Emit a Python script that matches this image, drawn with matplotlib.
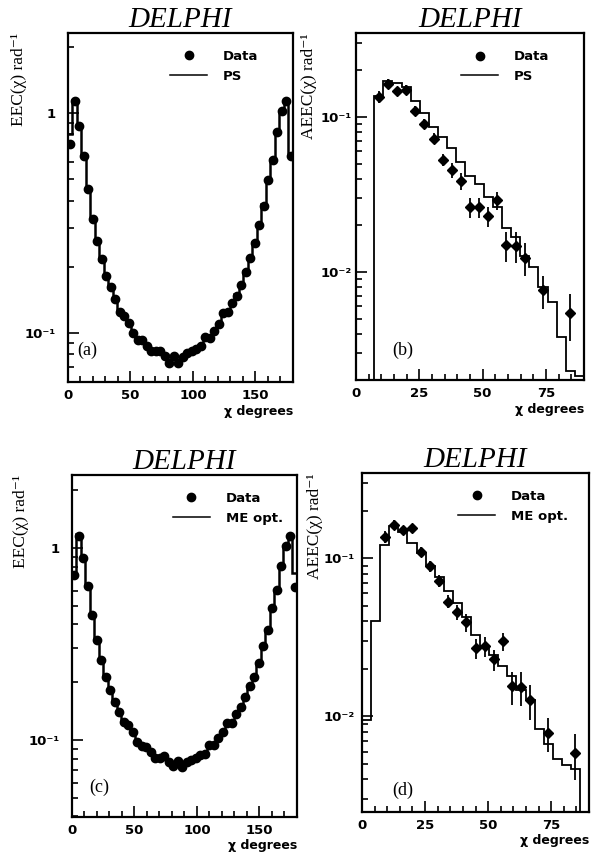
import numpy as np
import matplotlib
matplotlib.use("Agg")
import matplotlib.pyplot as plt
from matplotlib.ticker import LogLocator, MultipleLocator, FuncFormatter, NullFormatter

# ---- data (bins of 3.6 degrees) ----
bin_w = 3.6

# (a) EEC, data and parton shower
eec_a = [0.726, 1.13, 0.875, 0.635, 0.452, 0.330, 0.261, 0.217, 0.182, 0.162,
         0.143, 0.124, 0.120, 0.111, 0.100, 0.093, 0.0925, 0.087, 0.083, 0.083,
         0.083, 0.079, 0.073, 0.079, 0.073, 0.078, 0.081, 0.083, 0.085, 0.087,
         0.096, 0.095, 0.102, 0.110, 0.123, 0.124, 0.137, 0.148, 0.166, 0.190,
         0.219, 0.256, 0.311, 0.377, 0.497, 0.614, 0.817, 1.02, 1.13, 0.64]
ps_a = [0.80, 1.15, 0.88, 0.64, 0.45, 0.33, 0.262, 0.215, 0.180, 0.160,
        0.142, 0.125, 0.119, 0.110, 0.100, 0.094, 0.092, 0.087, 0.083, 0.083,
        0.082, 0.079, 0.075, 0.078, 0.075, 0.077, 0.080, 0.083, 0.085, 0.088,
        0.095, 0.096, 0.102, 0.110, 0.121, 0.126, 0.137, 0.150, 0.168, 0.192,
        0.222, 0.258, 0.315, 0.385, 0.50, 0.62, 0.83, 1.02, 1.15, 0.66]

# (c) EEC, data and matrix element (optimised scale)
eec_c = [0.726, 1.16, 0.887, 0.636, 0.449, 0.330, 0.261, 0.214, 0.182, 0.158,
         0.140, 0.124, 0.120, 0.110, 0.098, 0.093, 0.092, 0.087, 0.081, 0.081,
         0.083, 0.077, 0.073, 0.078, 0.072, 0.077, 0.079, 0.081, 0.084, 0.085,
         0.094, 0.094, 0.102, 0.110, 0.122, 0.122, 0.137, 0.149, 0.168, 0.190,
         0.214, 0.251, 0.307, 0.375, 0.486, 0.606, 0.802, 1.02, 1.16, 0.63]
me_c = [0.74, 1.18, 0.88, 0.64, 0.45, 0.33, 0.262, 0.214, 0.182, 0.158,
        0.141, 0.124, 0.120, 0.110, 0.099, 0.093, 0.092, 0.086, 0.082, 0.081,
        0.082, 0.078, 0.074, 0.077, 0.073, 0.077, 0.079, 0.081, 0.084, 0.086,
        0.094, 0.095, 0.102, 0.110, 0.121, 0.123, 0.137, 0.149, 0.168, 0.190,
        0.215, 0.252, 0.307, 0.375, 0.486, 0.606, 0.802, 1.02, 1.18, 0.74]

# (b), (d) AEEC data points (bin centres that have a positive asymmetry)
aeec_x = [9.0, 12.6, 16.2, 19.8, 23.4, 27.0, 30.6, 34.2, 37.8, 41.4,
          45.0, 48.6, 52.2, 55.8, 59.4, 63.0, 66.6, 73.8, 84.6]
aeec_b = [0.1345, 0.164, 0.147, 0.150, 0.110, 0.0906, 0.0725, 0.0531, 0.0453, 0.0386,
          0.0262, 0.0262, 0.0229, 0.0290, 0.0149, 0.0147, 0.0124, 0.0076, 0.0054]
aeec_b_err = [0.012, 0.012, 0.010, 0.010, 0.008, 0.007, 0.006, 0.005, 0.005, 0.005,
              0.0038, 0.0038, 0.0035, 0.004, 0.0033, 0.0033, 0.003, 0.0018, 0.0018]
aeec_d = [0.137, 0.162, 0.151, 0.155, 0.110, 0.0894, 0.0723, 0.0532, 0.046, 0.0393,
          0.027, 0.0277, 0.023, 0.0298, 0.0155, 0.0153, 0.0127, 0.0079, 0.00586]
aeec_d_err = [0.012, 0.012, 0.010, 0.010, 0.008, 0.007, 0.006, 0.005, 0.005, 0.005,
              0.004, 0.004, 0.0035, 0.004, 0.0037, 0.0037, 0.0032, 0.0019, 0.0019]

# (b) PS histogram from bin 3 (7.2 deg) to 90 deg
ps_b_first = 2
ps_b = [0.136, 0.170, 0.166, 0.156, 0.126, 0.106, 0.086, 0.074, 0.063, 0.051,
        0.0416, 0.037, 0.0306, 0.0264, 0.0191, 0.0167, 0.0126, 0.0108, 0.0080, 0.0064,
        0.00383, 0.00228, 0.00212]
# (d) ME histogram from 0 to 86.4 deg
me_d_first = 0
me_d = [0.0095, 0.0403, 0.121, 0.161, 0.147, 0.125, 0.108, 0.090, 0.076, 0.0623,
        0.0518, 0.0427, 0.0328, 0.0277, 0.0245, 0.0207, 0.0179, 0.0148, 0.0128, 0.0083,
        0.0067, 0.0054, 0.0049, 0.00464]

panel_tags = ["(a)", "(b)", "(c)", "(d)"]
mc_names = ["PS", "PS", "ME opt.", "ME opt."]

# ---- figure ----
fig = plt.figure(figsize=(5.96, 8.63), dpi=100, facecolor="white")

serif = ["Liberation Serif", "DejaVu Serif"]
sans_bold = dict(family="DejaVu Sans", weight="bold")


def decade_label(v, pos):
    if abs(v - 1) < 1e-9:
        return "1"
    e = int(round(np.log10(v)))
    sup = str(e).replace("-", "\u207b").replace("1", "\u00b9").replace("2", "\u00b2")
    return "10" + sup


def style_axis(ax, xlim, ylim, xmajor, xminor, ylabel, tag, tagpos, ypad, ylab_x):
    ax.set_xlim(*xlim)
    ax.set_yscale("log")
    ax.set_ylim(*ylim)
    for s in ax.spines.values():
        s.set_linewidth(1.6)
    ax.xaxis.set_major_locator(MultipleLocator(xmajor))
    ax.xaxis.set_minor_locator(MultipleLocator(xminor))
    ax.yaxis.set_major_locator(LogLocator(base=10))
    ax.yaxis.set_minor_locator(LogLocator(base=10, subs=np.arange(2, 10)))
    ax.yaxis.set_major_formatter(FuncFormatter(decade_label))
    ax.yaxis.set_minor_formatter(NullFormatter())
    ax.tick_params(which="both", direction="in", top=False, right=False, width=1.2)
    ax.tick_params(which="major", length=8)
    ax.tick_params(which="minor", length=4)
    ax.tick_params(axis="x", which="major", pad=5)
    ax.tick_params(axis="y", which="major", pad=ypad)
    for lab in ax.get_xticklabels() + ax.get_yticklabels():
        lab.set_fontfamily("DejaVu Sans")
        lab.set_fontweight("bold")
        lab.set_fontsize(9.5)
    ax.set_xlabel("\u03c7 degrees", fontsize=9, **sans_bold)
    ax.xaxis.set_label_coords(1.0, -0.065)
    ax.xaxis.label.set_horizontalalignment("right")
    ax.set_ylabel(ylabel, family=serif, fontsize=12.5, loc="top")
    ax.yaxis.set_label_coords(ylab_x, 1.0)
    ax.set_title("DELPHI", family=serif, style="italic", fontsize=21, pad=1)
    ax.text(tagpos[0], tagpos[1], tag, transform=ax.transAxes, family=serif,
            fontsize=13, ha="center", va="center")


def legend(ax, label, anchor_x):
    ax.plot([], [], "o", color="black", markersize=6, label="Data")
    ax.plot([], [], "-", color="black", lw=1.1, label=label)
    ax.legend(loc="upper right", bbox_to_anchor=(anchor_x, 0.985), frameon=False,
              handlelength=2.8, handletextpad=1.2, labelspacing=0.5,
              prop=dict(family="DejaVu Sans", weight="bold", size=9.5))


edges_full = np.arange(51) * bin_w
centres_full = edges_full[:-1] + bin_w / 2

# (a)
ax_a = fig.add_axes([0.114, 0.5574, 0.3775, 0.4044])
ax_a.stairs(ps_a, edges_full, color="black", lw=1.8, baseline=None)
ax_a.plot(centres_full, eec_a, "o", color="black", markersize=6)
style_axis(ax_a, (0, 180), (0.0599, 2.31), 50, 10,
           "EEC(\u03c7) rad\u207b\u00b9", panel_tags[0], (0.085, 0.092), 9, -0.18)
legend(ax_a, mc_names[0], 0.90)

# (b)
ax_b = fig.add_axes([0.5973, 0.5597, 0.3826, 0.402])
edges_b = np.arange(ps_b_first, ps_b_first + len(ps_b) + 1) * bin_w
ax_b.stairs(ps_b, edges_b, color="black", lw=1.3, baseline=1e-5)
ax_b.errorbar(aeec_x, aeec_b, yerr=aeec_b_err, fmt="D", color="black",
              markersize=5, elinewidth=1.3, capsize=0)
style_axis(ax_b, (0, 90), (0.00201, 0.348), 25, 5,
           "AEEC(\u03c7) rad\u207b\u00b9", panel_tags[1], (0.206, 0.086), 3, -0.17)
legend(ax_b, mc_names[1], 0.90)

# (c)
ax_c = fig.add_axes([0.1208, 0.0533, 0.3775, 0.3963])
ax_c.stairs(me_c, edges_full, color="black", lw=1.8, baseline=None)
ax_c.plot(centres_full, eec_c, "o", color="black", markersize=6)
style_axis(ax_c, (0, 180), (0.0397, 2.40), 50, 10,
           "EEC(\u03c7) rad\u207b\u00b9", panel_tags[2], (0.12, 0.088), 9, -0.19)
legend(ax_c, mc_names[2], 0.99)

# (d)
ax_d = fig.add_axes([0.6074, 0.0591, 0.381, 0.3928])
edges_d = np.arange(me_d_first, me_d_first + len(me_d) + 1) * bin_w
ax_d.stairs(me_d, edges_d, color="black", lw=1.3, baseline=1e-5)
ax_d.errorbar(aeec_x, aeec_d, yerr=aeec_d_err, fmt="D", color="black",
              markersize=5, elinewidth=1.3, capsize=0)
style_axis(ax_d, (0, 90), (0.00249, 0.346), 25, 5,
           "AEEC(\u03c7) rad\u207b\u00b9", panel_tags[3], (0.18, 0.065), 5, -0.17)
legend(ax_d, mc_names[3], 0.96)

fig.savefig("out.png", dpi=100, facecolor="white")
